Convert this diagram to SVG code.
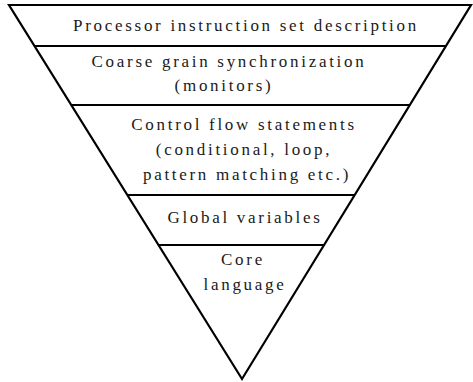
<svg xmlns="http://www.w3.org/2000/svg" width="473" height="382" viewBox="0 0 473 382">
<style>
.edge{fill:none;stroke:#000;stroke-width:2.2;stroke-linejoin:miter}
.sep{stroke:#000;stroke-width:2.2}
.t{font-family:"Liberation Serif","Times New Roman",serif;font-size:17px;letter-spacing:2.7px;fill:#1a1a1a;text-anchor:middle}
</style>
<rect width="473" height="382" fill="#fff"/>
<g id="connectors">
<polygon class="edge" points="9,5 471,5 242,379"/>
<line class="sep" x1="34.5" y1="46" x2="445.9" y2="46"/>
<line class="sep" x1="71.3" y1="105" x2="409.8" y2="105"/>
<line class="sep" x1="127.4" y1="195" x2="354.7" y2="195"/>
<line class="sep" x1="158.5" y1="245" x2="324" y2="245"/>
</g>
<g id="layer1"><text class="t" x="246" y="31">Processor instruction set description</text></g>
<g id="layer2"><text class="t" x="229" y="67">Coarse grain synchronization</text><text class="t" x="224" y="91">(monitors)</text></g>
<g id="layer3"><text class="t" x="244" y="130">Control flow statements</text><text class="t" x="244" y="155">(conditional, loop,</text><text class="t" x="247" y="180">pattern matching etc.)</text></g>
<g id="layer4"><text class="t" x="245" y="223">Global variables</text></g>
<g id="layer5"><text class="t" x="243" y="265">Core</text><text class="t" x="245" y="290">language</text></g>
</svg>
